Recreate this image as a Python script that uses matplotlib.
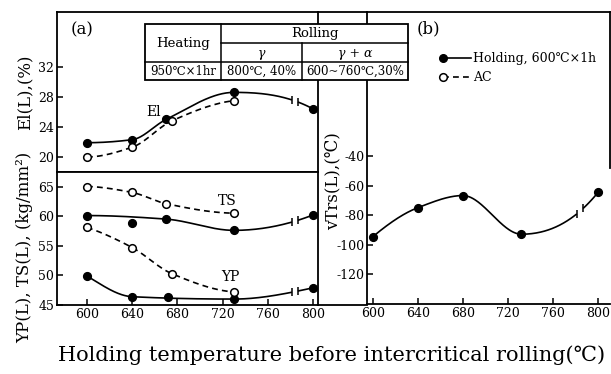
"""
Holding temperature before intercritical rolling vs. mechanical properties
(a) El / YP / TS, (b) vTrs
"""

import numpy as np
import matplotlib

matplotlib.use("Agg")
from matplotlib import pyplot as plt
from matplotlib.patches import Rectangle

# ---- data ----
# (a) El(L) %
el_hold_t = [600, 640, 670, 730, 800]
el_hold_v = [21.9, 22.3, 25.0, 28.6, 26.4]
el_ac_t = [600, 640, 675, 730]
el_ac_v = [20.0, 21.3, 24.8, 27.5]

# (a) TS(L) kg/mm2
ts_hold_t = [600, 640, 670, 730, 800]
ts_hold_v = [60.1, 58.9, 59.5, 57.6, 60.2]
ts_hold_off = [1]  # point that sits off the drawn curve
ts_ac_t = [600, 640, 670, 730]
ts_ac_v = [65.0, 64.0, 62.1, 60.5]

# (a) YP(L) kg/mm2
yp_hold_t = [600, 640, 672, 730, 800]
yp_hold_v = [49.9, 46.4, 46.4, 46.0, 47.9]
yp_hold_off = [2]
yp_ac_t = [600, 640, 675, 730]
yp_ac_v = [58.1, 54.7, 50.3, 47.2]

# (b) vTrs(L) degC
vt_hold_t = [600, 640, 680, 732, 800]
vt_hold_v = [-94.6, -75.0, -66.8, -93.0, -64.7]

el_ticks = [20, 24, 28, 32]
st_ticks = [45, 50, 55, 60, 65]
vt_ticks = [-40, -60, -80, -100, -120]
t_ticks = [600, 640, 680, 720, 760, 800]

BREAK = (781, 787)

plt.rcParams["font.family"] = ["DejaVu Serif", "Noto Sans CJK JP"]
plt.rcParams["axes.linewidth"] = 1.3


def smooth_curve(x, y, n=300):
    """monotone cubic (Fritsch-Carlson) through the points"""
    x = np.asarray(x, float)
    y = np.asarray(y, float)
    h = np.diff(x)
    d = np.diff(y) / h
    k = len(x)
    m = np.zeros(k)
    for i in range(1, k - 1):
        if d[i - 1] * d[i] > 0:
            w1 = 2 * h[i] + h[i - 1]
            w2 = h[i] + 2 * h[i - 1]
            m[i] = (w1 + w2) / (w1 / d[i - 1] + w2 / d[i])
    # end slopes
    for j, (h0, h1, d0, d1) in ((0, (h[0], h[1], d[0], d[1])), (k - 1, (h[-1], h[-2], d[-1], d[-2]))):
        s = ((2 * h0 + h1) * d0 - h0 * d1) / (h0 + h1)
        if np.sign(s) != np.sign(d0):
            s = 0.0
        elif np.sign(d0) != np.sign(d1) and abs(s) > abs(3 * d0):
            s = 3 * d0
        m[j] = s
    xs = np.linspace(x[0], x[-1], n)
    idx = np.clip(np.searchsorted(x, xs) - 1, 0, k - 2)
    hh = h[idx]
    t = (xs - x[idx]) / hh
    h00 = 2 * t**3 - 3 * t**2 + 1
    h10 = t**3 - 2 * t**2 + t
    h01 = -2 * t**3 + 3 * t**2
    h11 = t**3 - t**2
    ys = h00 * y[idx] + h10 * hh * m[idx] + h01 * y[idx + 1] + h11 * hh * m[idx + 1]
    return xs, ys


def draw_series(ax, t, v, filled, skip=()):
    keep = [i for i in range(len(t)) if i not in skip]
    xs, ys = smooth_curve([t[i] for i in keep], [v[i] for i in keep])
    ls = dict(color="black", lw=1.2)
    if not filled:
        ls.update(linestyle=(0, (3.5, 2.5)))
    if max(t) > BREAK[1]:
        # curve with a break mark before the 800 point
        lo = xs <= BREAK[0]
        hi = xs >= BREAK[1]
        ax.plot(xs[lo], ys[lo], **ls)
        ax.plot(xs[hi], ys[hi], **ls)
        ax.plot(
            list(BREAK),
            np.interp(BREAK, xs, ys),
            ls="none",
            marker="|",
            ms=6,
            mew=1.1,
            color="black",
        )
    else:
        ax.plot(xs, ys, **ls)
    ax.plot(
        t,
        v,
        ls="none",
        marker="o",
        ms=5.5,
        mew=1.1,
        mec="black",
        mfc="black" if filled else "white",
        zorder=5,
    )


W, H = 611, 374
fig = plt.figure(figsize=(W / 100, H / 100), dpi=100)


def px_axes(x0, y0, x1, y1):
    return fig.add_axes([x0 / W, 1 - y1 / H, (x1 - x0) / W, (y1 - y0) / H])


ax_el = px_axes(57, 12, 318, 172)
ax_st = px_axes(57, 172, 318, 305)
ax_vt = px_axes(367, 12, 610, 304)

# ---- (a) upper: El ----
draw_series(ax_el, el_hold_t, el_hold_v, True)
draw_series(ax_el, el_ac_t, el_ac_v, False)
ax_el.set_xlim(573.5, 804.4)
ax_el.set_ylim(18, 39.3)
ax_el.set_yticks(el_ticks)
ax_el.set_xticks([])

# ---- (a) lower: YP, TS ----
draw_series(ax_st, ts_hold_t, ts_hold_v, True, ts_hold_off)
draw_series(ax_st, ts_ac_t, ts_ac_v, False)
draw_series(ax_st, yp_hold_t, yp_hold_v, True, yp_hold_off)
draw_series(ax_st, yp_ac_t, yp_ac_v, False)
ax_st.set_xlim(573.5, 804.4)
ax_st.set_ylim(45, 67.45)
ax_st.set_yticks(st_ticks)
ax_st.set_xticks(t_ticks)

for ax in (ax_el, ax_st):
    ax.tick_params(direction="in", length=4, width=1.1, labelsize=9, pad=2)

# ---- (b) vTrs ----
draw_series(ax_vt, vt_hold_t, vt_hold_v, True)
ax_vt.set_xlim(594.7, 810.7)
ax_vt.set_ylim(-140.3, 57.6)
ax_vt.set_yticks(vt_ticks)
ax_vt.set_yticklabels([f"-{abs(v)}" for v in vt_ticks])
ax_vt.set_xticks(t_ticks)
ax_vt.tick_params(direction="in", length=4, width=1.1, labelsize=9, pad=2)
ax_vt.spines["right"].set_bounds(-48, 57.6)

# ---- overlay in pixel units: labels, frame joints, table, legend ----
ov = fig.add_axes([0, 0, 1, 1])
ov.set_xlim(0, W)
ov.set_ylim(H, 0)
ov.axis("off")
ov.patch.set_alpha(0)

ov.plot([318, 367], [12, 12], color="black", lw=1.3)
ov.plot([318, 367], [304.5, 304.5], color="black", lw=1.3)

# panel letters and curve names
ov.text(71, 30, "(a)", fontsize=12, va="center")
ov.text(417, 29, "(b)", fontsize=12, va="center")
ov.text(146, 112, "El", fontsize=10, va="center")
ov.text(227, 201, "TS", fontsize=10, ha="center", va="center")
ov.text(230, 277, "YP", fontsize=10, ha="center", va="center")

# axis titles
ov.text(25, 92, "El(L),(%)", fontsize=12, rotation=90, ha="center", va="center")
ov.text(25, 247, "YP(L), TS(L), (kg/mm²)", fontsize=12, rotation=90, ha="center", va="center")
ov.text(333, 181, "vTrs(L),(℃)", fontsize=12, rotation=90, ha="center", va="center")
ov.text(332, 355, "Holding temperature before intercritical rolling(℃)", fontsize=15, ha="center", va="center")

# condition table
ov.add_patch(Rectangle((145, 24), 263, 56, facecolor="white", edgecolor="black", lw=1.3, zorder=10))
tline = dict(color="black", lw=1.1, zorder=11)
ov.plot([221, 408], [43, 43], **tline)
ov.plot([145, 408], [62, 62], **tline)
ov.plot([221, 221], [24, 80], **tline)
ov.plot([302, 302], [43, 80], **tline)
tcell = dict(ha="center", va="center", zorder=12)
ov.text(183, 43, "Heating", fontsize=9.5, **tcell)
ov.text(315, 33.5, "Rolling", fontsize=9.5, **tcell)
ov.text(262, 53, "γ", fontsize=9, style="italic", **tcell)
ov.text(355, 53, "γ + α", fontsize=9, style="italic", **tcell)
ov.text(183, 71.5, "950℃×1hr", fontsize=8.5, **tcell)
ov.text(262, 71.5, "800℃, 40%", fontsize=8.5, **tcell)
ov.text(355, 71.5, "600~760℃,30%", fontsize=8.5, **tcell)

# legend
ov.plot([443, 471], [58, 58], color="black", lw=1.2)
ov.plot([443], [58], marker="o", ms=5.5, mfc="black", mec="black", color="black")
ov.text(473, 58, "Holding, 600℃×1h", fontsize=9, va="center")
ov.plot([443, 471], [77, 77], color="black", lw=1.2, linestyle=(0, (3.5, 2.5)))
ov.plot([443], [77], marker="o", ms=5.5, mfc="white", mec="black", mew=1.1)
ov.text(473, 77, "AC", fontsize=9, va="center")

fig.savefig("out.png", dpi=100, facecolor="white")
plt.close(fig)
